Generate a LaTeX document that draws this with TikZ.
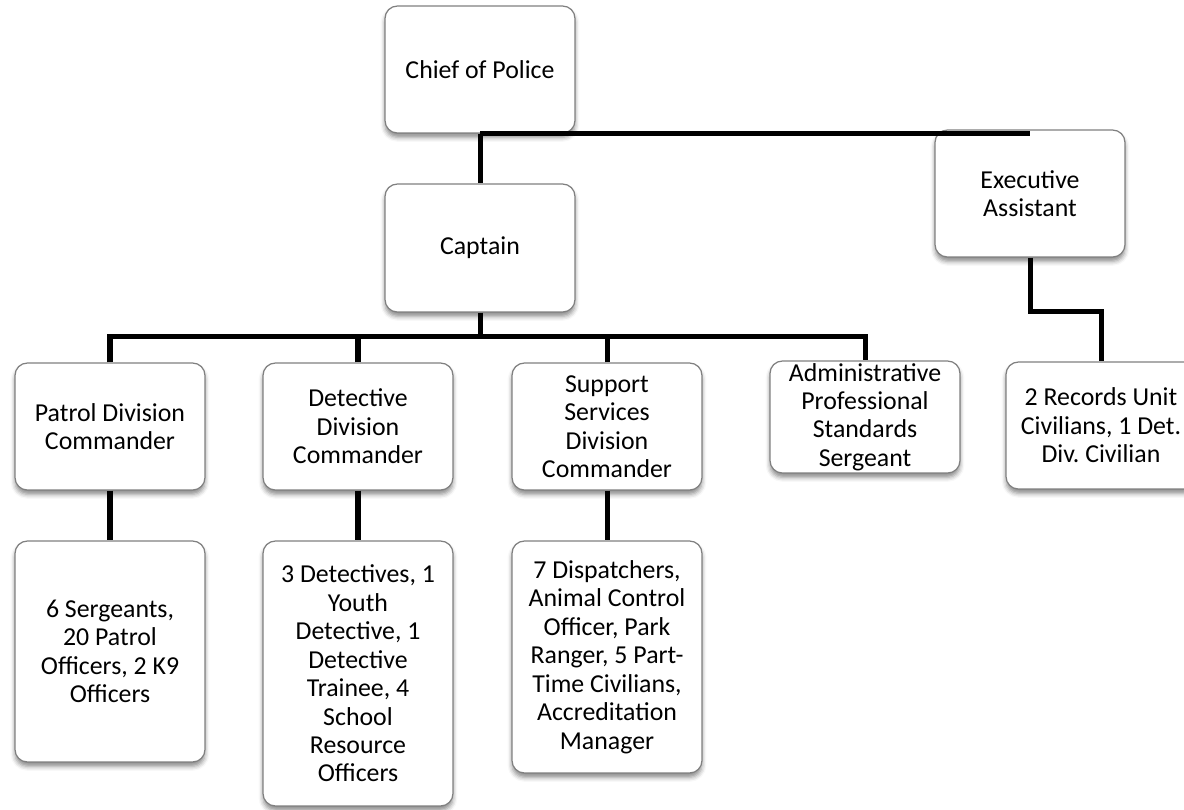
\documentclass[tikz,border=0pt]{standalone}
\usepackage{fontspec}
\setmainfont{Carlito}
\usetikzlibrary{shadows.blur}
\frenchspacing
\begin{document}
\begin{tikzpicture}[x=0.02cm,y=-0.02cm,
  box/.style={draw=black!50, line width=0.7pt, rounded corners=7pt, fill=white,
    align=center, inner sep=0pt, minimum width=3.8cm,
    font=\fontsize{14.7}{16.2}\selectfont,
    blur shadow={shadow xshift=0pt, shadow yshift=-2.5pt,
      shadow blur radius=2.5pt, shadow opacity=45}},
  link/.style={line width=2.85pt, line join=miter}]
\useasboundingbox (0,0) rectangle (1184,809);
\clip (0,0) rectangle (1184,809);

% top of the chain of command
\node[box, minimum height=2.54cm] (chief) at (480,69.5) {Chief of Police};
\node[box, minimum height=2.56cm] (captain) at (480,248) {Captain};
\node[box, minimum height=2.54cm] (exec) at (1030,193.5) {Executive\\Assistant};

% divisions
\node[box, minimum height=2.54cm] (patrol) at (110,426.5) {Patrol Division\\Commander};
\node[box, minimum height=2.54cm] (detective) at (358,426.5) {Detective\\Division\\Commander};
\node[box, minimum height=2.54cm] (support) at (607,426.5) {Support\\Services\\Division\\Commander};
\node[box, minimum height=2.24cm] (admin) at (865,417) {Administrative\\Professional\\Standards\\Sergeant};
\node[box, minimum height=2.54cm] (records) at (1101,425.5) {2 Records Unit\\Civilians, 1 Det.\\Div. Civilian};

% staff under each division
\node[box, minimum height=4.42cm] (patrolstaff) at (110,651.5)
  {6 Sergeants,\\20 Patrol\\Officers, 2 K9\\Officers};
\node[box, minimum height=5.3cm] (detstaff) at (358,673.5)
  {3 Detectives, 1\\Youth\\Detective, 1\\Detective\\Trainee, 4\\School\\Resource\\Officers};
\node[box, minimum height=4.64cm] (suppstaff) at (607,657)
  {7 Dispatchers,\\Animal Control\\Officer, Park\\Ranger, 5 Part-\\Time Civilians,\\Accreditation\\Manager};

% connectors
\coordinate (bus) at (480,336);
\coordinate (execbend) at (1030,311);
\draw[link] (chief.south) -- (captain.north);
\draw[link] (chief.south) -- (chief.south -| exec.north);
\draw[link] (captain.south) -- (bus);
\draw[link] (patrol.north) -- (patrol.north |- bus) -- (admin.north |- bus) -- (admin.north);
\draw[link] (detective.north) -- (detective.north |- bus);
\draw[link] (support.north) -- (support.north |- bus);
\draw[link] (exec.south) -- (execbend) -- (execbend -| records.north) -- (records.north);
\draw[link] (patrol.south) -- (patrolstaff.north);
\draw[link] (detective.south) -- (detstaff.north);
\draw[link] (support.south) -- (suppstaff.north);
\end{tikzpicture}
\end{document}
